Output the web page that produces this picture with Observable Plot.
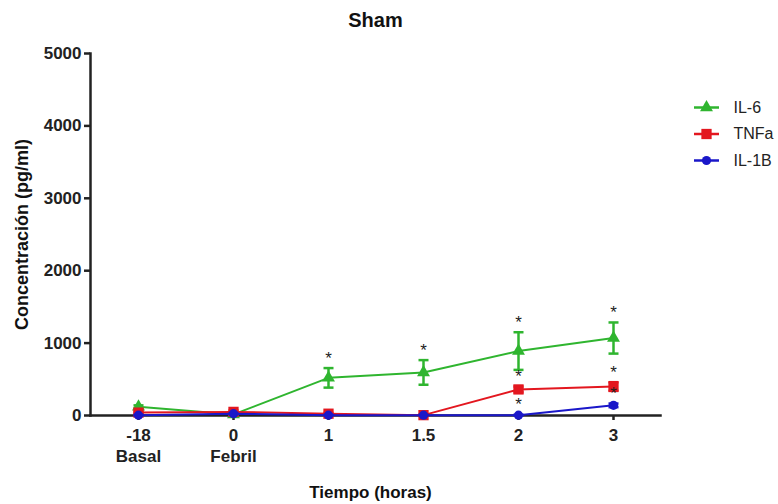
<!DOCTYPE html>
<html>
<head>
<meta charset="utf-8">
<script src="https://cdn.jsdelivr.net/npm/d3@7"></script>
<script src="https://cdn.jsdelivr.net/npm/@observablehq/plot@0.6"></script>
<style>
  html, body { margin: 0; padding: 0; background: #fff; }
  #chart { width: 778px; height: 504px; }
</style>
</head>
<body>
<div id="chart"></div>
<script>
// Time points (hours) and the note printed under some of them
const times = ["-18", "0", "1", "1.5", "2", "3"];
const timeNotes = ["Basal", "Febril", "", "", "", ""];

// Cytokine series
const seriesNames = ["IL-6", "TNFa", "IL-1B"];

// Mean concentration (pg/ml) and error (SEM) per time point
const il6Mean = [120, 15, 520, 595, 890, 1070];
const il6Err = [20, 10, 135, 170, 260, 215];
const il6Sig = [false, false, true, true, true, true];

const tnfMean = [40, 50, 25, 5, 360, 400];
const tnfErr = [15, 20, 10, 5, 40, 60];
const tnfSig = [false, false, false, false, true, true];

const il1bMean = [5, 25, 5, 5, 5, 140];
const il1bErr = [5, 10, 5, 5, 5, 25];
const il1bSig = [false, false, false, false, true, true];

const yTicks = [0, 1000, 2000, 3000, 4000, 5000];

// Presentation per series
const seriesStyle = {
  "IL-6": {color: "#2fb52f", symbol: "triangle", r: 4.8},
  "TNFa": {color: "#e3171f", symbol: "square", r: 5.8},
  "IL-1B": {color: "#1a17c9", symbol: "circle", r: 4.6}
};

const seriesData = [
  {name: "IL-6", mean: il6Mean, err: il6Err, sig: il6Sig},
  {name: "TNFa", mean: tnfMean, err: tnfErr, sig: tnfSig},
  {name: "IL-1B", mean: il1bMean, err: il1bErr, sig: il1bSig}
];

// Horizontal bar symbol used for error caps and legend lines
const hline = {
  draw(context, size) {
    const w = Math.sqrt(size / Math.PI);
    context.moveTo(-w, 0);
    context.lineTo(w, 0);
  }
};

const axisColor = "#222";
const marks = [];

seriesData.forEach((s, si) => {
  const st = seriesStyle[s.name];
  const rows = times.map((t, i) => ({
    time: t,
    mean: s.mean[i],
    lo: s.mean[i] - s.err[i],
    hi: s.mean[i] + s.err[i],
    sig: s.sig[i]
  }));
  marks.push(
    Plot.ruleX(rows, {x: "time", y1: "lo", y2: "hi", stroke: st.color, strokeWidth: 2.5}),
    Plot.dot(rows, {x: "time", y: "hi", symbol: hline, r: 5, stroke: st.color, strokeWidth: 2.5, fill: "none"}),
    Plot.dot(rows, {x: "time", y: "lo", symbol: hline, r: 5, stroke: st.color, strokeWidth: 2.5, fill: "none"}),
    Plot.line(rows, {x: "time", y: "mean", stroke: st.color, strokeWidth: 2}),
    Plot.dot(rows, {x: "time", y: "mean", symbol: st.symbol, r: st.r, fill: st.color, stroke: "none"}),
    Plot.text(rows.filter(d => d.sig), {
      x: "time", y: "hi", text: () => "*", dy: -10,
      fontSize: 17, fill: "#222", lineAnchor: "middle"
    })
  );
  // Legend entry
  const legendDy = 54 + 26.5 * si;
  marks.push(
    Plot.dot([s.name], {frameAnchor: "top-right", dx: 46, dy: legendDy, symbol: hline, r: 12.5, stroke: st.color, strokeWidth: 2.5, fill: "none"}),
    Plot.dot([s.name], {frameAnchor: "top-right", dx: 46, dy: legendDy, symbol: st.symbol, r: st.r, fill: st.color}),
    Plot.text([s.name], {frameAnchor: "top-right", dx: 73, dy: legendDy, text: d => d, textAnchor: "start", lineAnchor: "middle", fontSize: 16, fill: "#222"})
  );
});

const chart = Plot.plot({
  width: 778,
  height: 504,
  marginLeft: 90,
  marginRight: 118,
  marginTop: 53,
  marginBottom: 89,
  style: {fontFamily: "'Liberation Sans', Arial, sans-serif", background: "#fff", color: axisColor},
  x: {type: "point", domain: times, padding: 0.5},
  y: {domain: [0, 5000]},
  marks: [
    Plot.axisY({
      ticks: yTicks, tickSize: 6, tickPadding: 3, tickFormat: d => String(d),
      fontSize: 17, fontWeight: "bold", label: null, stroke: axisColor, strokeWidth: 2.5
    }),
    Plot.axisX({
      tickSize: 5, tickPadding: 5, fontSize: 17, fontWeight: "bold", lineHeight: 1.25,
      tickFormat: d => {
        const note = timeNotes[times.indexOf(d)];
        return note ? d + "\n" + note : d;
      },
      label: null, stroke: axisColor, strokeWidth: 2.5
    }),
    Plot.frame({anchor: "left", stroke: axisColor, strokeWidth: 2.5}),
    Plot.frame({anchor: "bottom", stroke: axisColor, strokeWidth: 2.5}),
    ...marks,
    Plot.text(["Sham"], {frameAnchor: "top", dy: -33, lineAnchor: "middle", text: d => d, fontSize: 20, fontWeight: "bold", fill: "#111"}),
    Plot.text(["Concentración (pg/ml)"], {frameAnchor: "left", dx: -68, rotate: -90, textAnchor: "middle", lineAnchor: "middle", text: d => d, fontSize: 18, fontWeight: "bold", fill: "#111"}),
    Plot.text(["Tiempo (horas)"], {frameAnchor: "bottom", dy: 77, dx: -5, lineAnchor: "middle", text: d => d, fontSize: 17, fontWeight: "bold", fill: "#111"})
  ]
});

document.getElementById("chart").appendChild(chart);
</script>
</body>
</html>
